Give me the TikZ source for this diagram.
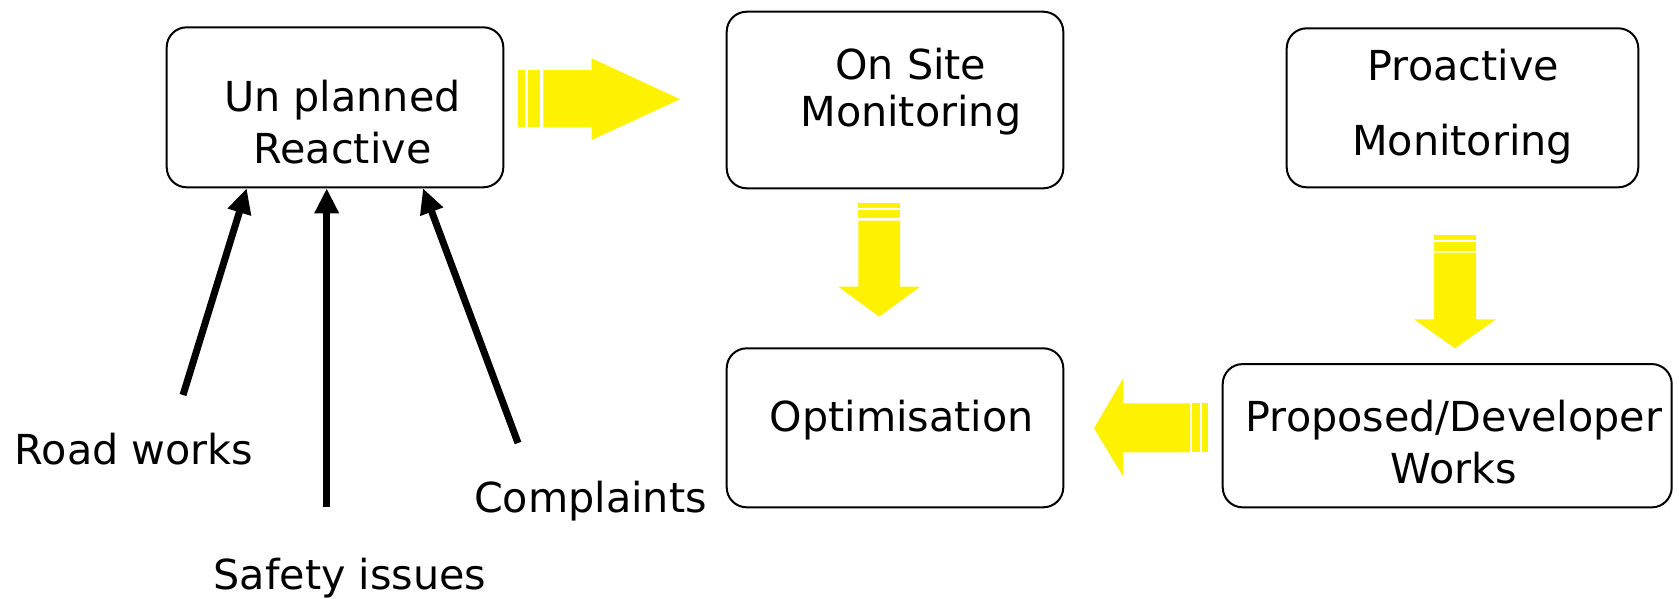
\documentclass[tikz,border=0pt]{standalone}
\usepackage{fontspec}
\setmainfont{DejaVu Sans}
\usetikzlibrary{arrows.meta}
\begin{document}
\begin{tikzpicture}[x=1pt,y=-1pt,
  box/.style={draw=black,line width=2pt,rounded corners=20pt,inner sep=0pt},
  txt/.style={inner sep=0pt,anchor=base,font=\fontsize{41.3}{50}\selectfont},
  blackarrow/.style={draw=black,line width=7pt,-{Triangle[length=25pt,width=23pt]}},
  blockarrow/.style={fill=yellow,draw=none}]
\fill[white] (0,0) rectangle (1680,598);
\useasboundingbox (0,0) rectangle (1680,598);

% boxes
\node[box,minimum width=336.6pt,minimum height=160pt] (b1) at (335,107.3) {};
\node[box,minimum width=336.6pt,minimum height=176.6pt] (b2) at (895,100) {};
\node[box,minimum width=351.6pt,minimum height=159pt] (b3) at (1462.5,107.8) {};
\node[box,minimum width=336.6pt,minimum height=159pt] (b4) at (895,427.8) {};
\node[box,minimum width=449pt,minimum height=143.3pt] (b5) at (1447.2,435.7) {};

% box texts
\node[txt] (t1a) at (342.5,111.7) {Un planned};
\node[txt] (t1b) at (342.5,163.3) {Reactive};
\node[txt] (t2a) at (910.8,79.3) {On Site};
\node[txt] (t2b) at (910.8,126) {Monitoring};
\node[txt] (t3a) at (1463.3,80) {Proactive};
\node[txt] (t3b) at (1462.5,155) {Monitoring};
\node[txt] (t4) at (901.7,431.7) {Optimisation};
\node[txt] (t5a) at (1454,431.7) {Proposed/Developer};
\node[txt] (t5b) at (1454,483.3) {Works};

% labels
\node[txt] (lroad) at (134,464) {Road works};
\node[txt] (lsafe) at (350,589) {Safety issues};
\node[txt] (lcomp) at (590.5,512) {Complaints};

% black arrows
\coordinate (sroad) at (183,395);
\coordinate (ssafe) at (326.7,506.7);
\coordinate (scomp) at (518,443);
\draw[blackarrow] (sroad) -- (246.7,0 |- b1.south);
\draw[blackarrow] (ssafe) -- (326.7,0 |- b1.south);
\draw[blackarrow] (scomp) -- (423,0 |- b1.south);

% yellow block arrows
% b1 -> b2
\fill[blockarrow] (518.3,70) rectangle (525,127.3);
\fill[blockarrow] (528.3,70) rectangle (540,127.3);
\fill[blockarrow] (543.3,70) -- (591.7,70) -- (591.7,58.3) -- (680,99.2) -- (591.7,140) -- (591.7,127.3) -- (543.3,127.3) -- cycle;
% b2 -> b4
\fill[blockarrow] (858.3,203.3) rectangle (900,207.7);
\fill[blockarrow] (858.3,210) rectangle (900,218.3);
\fill[blockarrow] (858.3,220.7) -- (900,220.7) -- (900,286.7) -- (920,286.7) -- (879.2,316.7) -- (838.3,286.7) -- (858.3,286.7) -- cycle;
% b3 -> b5
\fill[blockarrow] (1434,235) rectangle (1476,240);
\fill[blockarrow] (1434,242.3) rectangle (1476,250.7);
\fill[blockarrow] (1434,252.7) -- (1476,252.7) -- (1476,319.3) -- (1496,319.3) -- (1455,348.3) -- (1414,319.3) -- (1434,319.3) -- cycle;
% b5 -> b4
\fill[blockarrow] (1202.3,403.3) rectangle (1207.7,452.3);
\fill[blockarrow] (1191.7,403.3) rectangle (1200,452.3);
\fill[blockarrow] (1190,403.3) -- (1123.3,403.3) -- (1123.3,378.3) -- (1094,428.3) -- (1123.3,476.7) -- (1123.3,452.3) -- (1190,452.3) -- cycle;
\end{tikzpicture}
\end{document}
